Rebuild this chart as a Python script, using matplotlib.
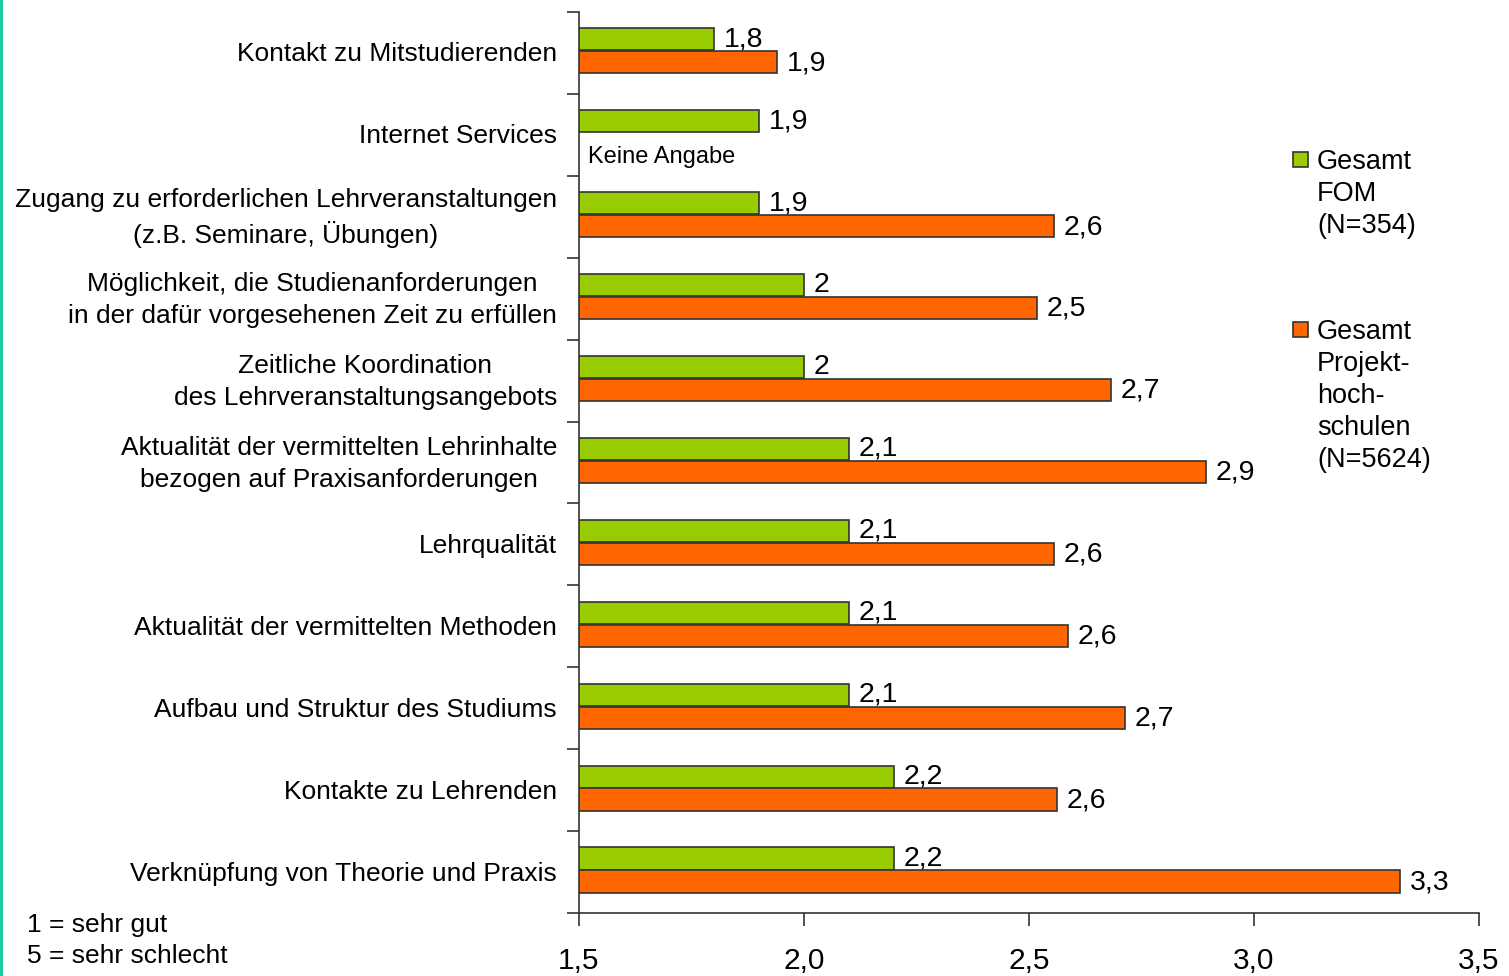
import matplotlib
matplotlib.use("Agg")
import matplotlib.pyplot as plt
from matplotlib.patches import Rectangle
from matplotlib.transforms import ScaledTranslation
import numpy as np

plt.rcParams['font.family'] = ['Liberation Sans', 'DejaVu Sans']

categories = [
    "Kontakt zu Mitstudierenden",
    "Internet Services",
    "Zugang zu erforderlichen Lehrveranstaltungen\n(z.B. Seminare, Übungen)",
    "Möglichkeit, die Studienanforderungen\nin der dafür vorgesehenen Zeit zu erfüllen",
    "Zeitliche Koordination\ndes Lehrveranstaltungsangebots",
    "Aktualität der vermittelten Lehrinhalte\nbezogen auf Praxisanforderungen",
    "Lehrqualität",
    "Aktualität der vermittelten Methoden",
    "Aufbau und Struktur des Studiums",
    "Kontakte zu Lehrenden",
    "Verknüpfung von Theorie und Praxis",
]
fom_values = [1.80, 1.90, 1.90, 2.00, 2.00, 2.10, 2.10, 2.10, 2.10, 2.20, 2.20]
fom_labels = ["1,8", "1,9", "1,9", "2", "2", "2,1", "2,1", "2,1", "2,1", "2,2", "2,2"]
proj_values = [1.94, None, 2.556, 2.518, 2.682, 2.893, 2.556, 2.587, 2.713, 2.562, 3.324]
proj_labels = ["1,9", None, "2,6", "2,5", "2,7", "2,9", "2,6", "2,6", "2,7", "2,6", "3,3"]
xticks = [1.5, 2.0, 2.5, 3.0, 3.5]
xtick_labels = ["1,5", "2,0", "2,5", "3,0", "3,5"]
legend_fom = "Gesamt\nFOM\n(N=354)"
legend_proj = "Gesamt\nProjekt-\nhoch-\nschulen\n(N=5624)"
no_data_text = "Keine Angabe"
scale_note = "1 = sehr gut\n5 = sehr schlecht"

GREEN = "#99cc00"
ORANGE = "#ff6600"
EDGE = "#333333"

W, H = 1509, 976
fig = plt.figure(figsize=(W / 100, H / 100), dpi=100)
ax = fig.add_axes([579 / W, 1 - 913 / H, 900 / W, 901 / H])

y = np.arange(len(categories))
bh = 0.27
off_g = -0.165
off_o = 0.115

ax.barh(y + off_g, np.array(fom_values) - 1.5, left=1.5, height=bh,
        color=GREEN, edgecolor=EDGE, linewidth=1.2, zorder=3)
for yi, v, lab in zip(y, fom_values, fom_labels):
    ax.text(v + 0.022, yi + off_g, lab, fontsize=20.5, va='center', ha='left')

for yi, v, lab in zip(y, proj_values, proj_labels):
    if v is None:
        continue
    ax.barh(yi + off_o, v - 1.5, left=1.5, height=bh,
            color=ORANGE, edgecolor=EDGE, linewidth=1.2, zorder=3)
    ax.text(v + 0.022, yi + off_o + 0.01, lab, fontsize=20.5, va='center', ha='left')

ax.text(1.52, 1 + 0.275, no_data_text, fontsize=17, va='center', ha='left')

ax.set_xlim(1.5, 3.5)
ax.set_ylim(len(categories) - 0.5, -0.5)
ax.set_xticks(xticks)
ax.set_xticklabels(xtick_labels, fontsize=21.5)

# category labels (drawn as text left of the axis)
ax.set_yticks(y)
ax.set_yticklabels([])
ax.set_yticks(np.arange(-0.5, len(categories)), minor=True)
for yi, cat in zip(y, categories):
    tr = ax.get_yaxis_transform() + ScaledTranslation(-22 / 100, -1.5 / 100, fig.dpi_scale_trans)
    ax.text(0, yi, cat, transform=tr, fontsize=19, ha='right', va='center',
            multialignment='center', linespacing=1.4)

ax.tick_params(axis='y', which='major', length=0)
ax.tick_params(axis='y', which='minor', length=9, width=1.2, color=EDGE, direction='out')
ax.tick_params(axis='x', length=9, width=1.2, color=EDGE, direction='out', pad=15.5)
for s in ['top', 'right']:
    ax.spines[s].set_visible(False)
for s in ['left', 'bottom']:
    ax.spines[s].set_color(EDGE)
    ax.spines[s].set_linewidth(1.2)

# legend
sq = 15
fig.patches.append(Rectangle((1293 / W, 1 - 167 / H), sq / W, sq / H, transform=fig.transFigure,
                             facecolor=GREEN, edgecolor=EDGE, linewidth=1.2))
fig.text(1317 / W, 1 - 149 / H, legend_fom, fontsize=19.5, va='top', ha='left', linespacing=1.3)
fig.patches.append(Rectangle((1293 / W, 1 - 337 / H), sq / W, sq / H, transform=fig.transFigure,
                             facecolor=ORANGE, edgecolor=EDGE, linewidth=1.2))
fig.text(1317 / W, 1 - 319 / H, legend_proj, fontsize=19.5, va='top', ha='left', linespacing=1.3)

fig.text(27 / W, 1 - 913 / H, scale_note, fontsize=19, va='top', ha='left', linespacing=1.36)

# left teal border
fig.patches.append(Rectangle((0, 0), 3 / W, 1, transform=fig.transFigure,
                             facecolor="#1ec8a0", edgecolor='none'))

fig.savefig("out.png", dpi=100)
